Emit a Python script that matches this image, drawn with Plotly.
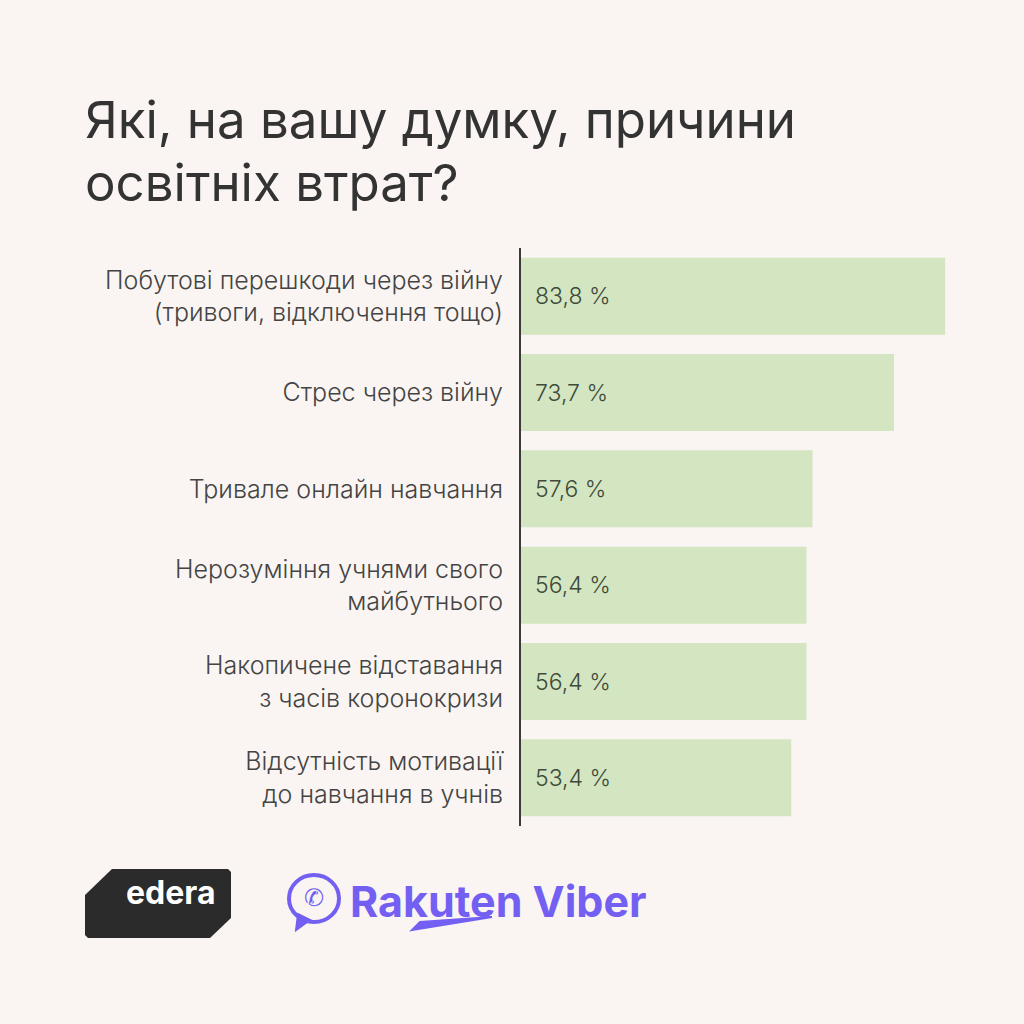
import plotly.graph_objects as go

categories = [
    "Побутові перешкоди через війну<br>(тривоги, відключення тощо)",
    "Стрес через війну",
    "Тривале онлайн навчання",
    "Нерозуміння учнями свого<br>майбутнього",
    "Накопичене відставання<br>з часів коронокризи",
    "Відсутність мотивації<br>до навчання в учнів",
]
values = [83.8, 73.7, 57.6, 56.4, 56.4, 53.4]
value_labels = ["83,8 %", "73,7 %", "57,6 %", "56,4 %", "56,4 %", "53,4 %"]
title_lines = ["Які, на вашу думку, причини", "освітніх втрат?"]

W, H = 1024, 1024
L, R, T, B = 521, 50, 248, 198
PW, PH = W - L - R, H - T - B

def px(x):
    return (x - L) / PW

def py(y):
    return (T + PH - y) / PH

BG = "#FAF5F2"
FONT = "Inter, Roboto, sans-serif"

fig = go.Figure(go.Bar(
    x=values, y=categories, orientation="h",
    marker=dict(color="#D3E6C1", line=dict(width=0)),
    hoverinfo="skip",
))

annotations = []
for cat, lab in zip(categories, value_labels):
    annotations.append(dict(x=0, y=cat, xref="x", yref="y", text=lab, showarrow=False,
                            xanchor="left", xshift=12,
                            font=dict(family=FONT, size=23, weight=300, color="#3E4A3B")))

# title
annotations.append(dict(x=px(83), y=py(120), xref="paper", yref="paper", text=title_lines[0],
                        showarrow=False, xanchor="left", yanchor="middle",
                        font=dict(family=FONT, size=51, color="#333333")))
annotations.append(dict(x=px(83), y=py(183), xref="paper", yref="paper", text=title_lines[1],
                        showarrow=False, xanchor="left", yanchor="middle",
                        font=dict(family=FONT, size=51, color="#333333")))

# edera logo text
annotations.append(dict(x=px(170), y=py(892), xref="paper", yref="paper", text="<b>edera</b>",
                        showarrow=False, xanchor="center", yanchor="middle",
                        font=dict(family=FONT, size=32, color="#FFFFFF")))
# Rakuten Viber text
annotations.append(dict(x=px(348), y=py(901), xref="paper", yref="paper", text="<b>Rakuten Viber</b>",
                        showarrow=False, xanchor="left", yanchor="middle",
                        font=dict(family=FONT, size=43, color="#7360F2")))

def path(points):
    s = "M " + " L ".join(f"{px(a):.5f},{py(b):.5f}" for a, b in points) + " Z"
    return s

shapes = [
    dict(type="path", xref="paper", yref="paper",
         path=path([(85, 895), (112, 869), (228, 869), (231, 872), (231, 918), (210, 938), (88, 938), (85, 935)]),
         fillcolor="#2B2B2B", line=dict(width=0)),
    # viber bubble icon
    dict(type="circle", xref="paper", yref="paper",
         x0=px(289), x1=px(339), y0=py(875), y1=py(922),
         fillcolor="rgba(0,0,0,0)", line=dict(color="#7360F2", width=4)),
    dict(type="path", xref="paper", yref="paper",
         path=path([(298, 914), (296, 930), (310, 920)]),
         fillcolor="#7360F2", line=dict(color="#7360F2", width=2)),
    dict(type="path", xref="paper", yref="paper",
         path=path([(412, 930), (492, 917), (420, 922)]),
         fillcolor="#7360F2", line=dict(color="#7360F2", width=2)),
]

annotations.append(dict(x=px(314), y=py(898), xref="paper", yref="paper", text="✆",
                        showarrow=False, xanchor="center", yanchor="middle",
                        font=dict(family="DejaVu Sans", size=24, color="#7360F2")))

fig.update_layout(
    width=W, height=H,
    margin=dict(l=L, r=R, t=T, b=B, pad=0),
    paper_bgcolor=BG, plot_bgcolor=BG,
    bargap=0.2,
    showlegend=False,
    annotations=annotations,
    shapes=shapes,
    xaxis=dict(range=[0, 89.5], visible=False, fixedrange=True),
    yaxis=dict(autorange="reversed", showline=True, linecolor="#3A3A3A", linewidth=2,
               showgrid=False, zeroline=False, ticks="outside", ticklen=11,
               tickcolor="rgba(0,0,0,0)",
               tickfont=dict(family=FONT, size=25, weight=300, color="#444444")),
)

fig.write_html("out.html")
